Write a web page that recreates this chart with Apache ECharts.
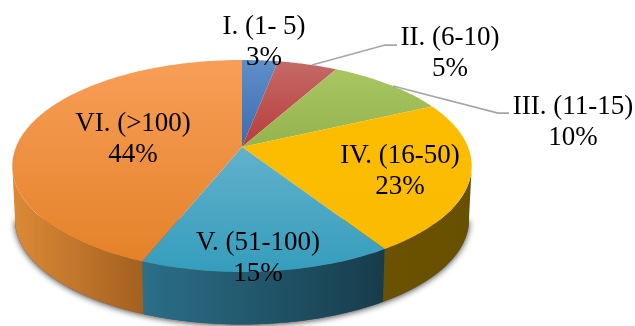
<!DOCTYPE html>
<html>
<head>
<meta charset="utf-8">
<style>html,body{margin:0;padding:0;background:#fff}#chart{width:635px;height:326px}</style>
<script src="https://cdn.jsdelivr.net/npm/echarts@6/dist/echarts.min.js"></script>
</head>
<body>
<div id="chart"></div>
<script>
// Share of each size class, clockwise from twelve o'clock
const categories = ['I. (1- 5)', 'II. (6-10)', 'III. (11-15)', 'IV. (16-50)', 'V. (51-100)', 'VI. (>100)'];
const shares = [3, 5, 10, 23, 15, 44];

// Top-face gradients (far edge, near edge) and rim gradients (left, right)
const faceColors = [
  ['#5f8fca', '#3a6cae'], ['#c46a67', '#b83c3a'], ['#a8c560', '#94b44f'],
  ['#fcbc00', '#fbbb00'], ['#62b1cb', '#359dbd'], ['#f89e58', '#e48229']
];
const rimColors = [
  ['#2b4a73', '#2b4a73'], ['#702523', '#702523'], ['#5a6e2f', '#5a6e2f'],
  ['#6b5200', '#675000'], ['#2b6f88', '#173c4b'], ['#dc8a36', '#a3601f']
];

// Perspective tilt of the disc: the near edge is drawn larger than the far edge
const disc = { cx: 242, cy: 147, a: 226, b: 102.6, k: 0.179, depth: 54, shrink: 0.988 };
const rimStart = 100.3, rimEnd = 259.7; // angles where the rim turns out of sight

function project(deg, lower) {
  const t = deg * Math.PI / 180, x = Math.sin(t), z = Math.cos(t), w = 1 + disc.k * z;
  const s = lower ? disc.shrink : 1;
  return [
    disc.cx + s * disc.a * x / w,
    disc.cy - s * disc.b * z / w + (lower ? disc.depth : 0)
  ];
}
function arc(from, to, lower) {
  const pts = [], n = Math.max(2, Math.ceil(Math.abs(to - from)));
  for (let i = 0; i <= n; i++) pts.push(project(from + (to - from) * i / n, lower));
  return pts;
}
const total = shares.reduce((s, v) => s + v, 0);
const startShare = shares.map((_, i) => shares.slice(0, i).reduce((s, v) => s + v, 0));
const LG = echarts.graphic.LinearGradient;

function renderSlice(params, api) {
  const i = params.dataIndex;
  const from = startShare[i] / total * 360, to = from + api.value(0) / total * 360;
  const children = [];
  if (i === 0) {
    // soft shadow under the front of the rim
    children.push({
      type: 'polygon', z2: 0,
      shape: { points: arc(rimStart, rimEnd, true) },
      style: { fill: '#555', shadowColor: 'rgba(0,0,0,0.75)', shadowBlur: 6, shadowOffsetY: 1 }
    });
  }
  const a0 = Math.max(from, rimStart), a1 = Math.min(to, rimEnd);
  if (a1 > a0) {
    children.push({
      type: 'polygon', z2: 1,
      shape: { points: arc(a0, a1, false).concat(arc(a1, a0, true)) },
      style: { fill: new LG(0, 0, 1, 0, [
        { offset: 0, color: rimColors[i][0] }, { offset: 1, color: rimColors[i][1] }
      ]) }
    });
  }
  children.push({
    type: 'polygon', z2: 2,
    shape: { points: [[disc.cx, disc.cy]].concat(arc(from, to, false)) },
    style: { fill: new LG(0, 0, 0, 1, [
      { offset: 0, color: faceColors[i][0] }, { offset: 1, color: faceColors[i][1] }
    ]) }
  });
  return { type: 'group', children };
}

// Label centres, in the order of the categories
const labelCentres = [[264, 42], [450, 53], [573, 122], [400, 171], [258, 258], [133, 139]];
const leaders = [
  [[312, 65], [385, 45], [397, 45]],
  [[393, 86], [498, 113], [509, 113]]
];

const chart = echarts.init(document.getElementById('chart'), null, { renderer: 'canvas' });
chart.setOption({
  animation: false,
  series: [{
    type: 'custom',
    coordinateSystem: 'none',
    renderItem: renderSlice,
    silent: true,
    data: shares.map(v => [v])
  }],
  graphic: leaders.map(points => ({
    type: 'polyline', z: 50, shape: { points },
    style: { stroke: '#a6a6a6', lineWidth: 1.75, fill: null }
  })).concat(categories.map((name, i) => ({
    type: 'text', z: 60, x: labelCentres[i][0], y: labelCentres[i][1],
    style: {
      text: name + '\n' + shares[i] + '%',
      fontFamily: '"Liberation Serif", serif', fontSize: 27, lineHeight: 31,
      fill: '#000', align: 'center', verticalAlign: 'middle'
    }
  })))
});
</script>
</body>
</html>
